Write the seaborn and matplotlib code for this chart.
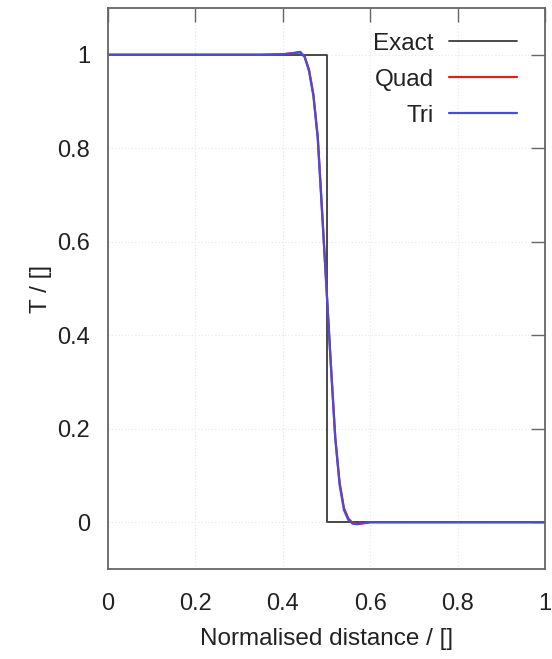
import matplotlib
matplotlib.use("Agg")
import matplotlib.pyplot as plt
import seaborn as sns
import pandas as pd

# Exact step profile
exact_x = [0.0, 0.5, 0.5, 1.0]
exact_t = [1.0, 1.0, 0.0, 0.0]

# Numerical solutions (quadrilateral and triangular meshes)
num_x = [0.0, 0.30, 0.35, 0.40, 0.42, 0.44, 0.45, 0.46, 0.47, 0.48, 0.49, 0.50,
         0.51, 0.52, 0.53, 0.54, 0.55, 0.56, 0.57, 0.58, 0.60, 0.65, 1.0]
quad_t = [1.0, 1.0, 1.0, 1.001, 1.003, 1.005, 0.996, 0.968, 0.915, 0.825, 0.665, 0.50,
          0.338, 0.182, 0.085, 0.030, 0.008, -0.002, -0.004, -0.003, 0.0, 0.0, 0.0]
tri_t = [1.0, 1.0, 1.0, 1.001, 1.003, 1.006, 0.995, 0.965, 0.912, 0.820, 0.660, 0.50,
         0.335, 0.180, 0.080, 0.026, 0.005, -0.003, -0.004, -0.002, 0.0, 0.0, 0.0]

series_names = ["Exact", "Quad", "Tri"]
series_colors = ["#3a3a3a", "#e02020", "#4b4bd8"]

sns.set_theme(style="white")
plt.rcParams["font.family"] = ["Liberation Sans", "DejaVu Sans"]

fig = plt.figure(figsize=(5.52, 6.59), dpi=100)
ax = fig.add_axes([0.1957, 0.1366, 0.7916, 0.8513])

exact_df = pd.DataFrame({"x": exact_x, "T": exact_t})
quad_df = pd.DataFrame({"x": num_x, "T": quad_t})
tri_df = pd.DataFrame({"x": num_x, "T": tri_t})

sns.lineplot(data=exact_df, x="x", y="T", estimator=None, sort=False, ax=ax,
             color=series_colors[0], linewidth=1.3, label=series_names[0])
sns.lineplot(data=quad_df, x="x", y="T", estimator=None, sort=False, ax=ax,
             color=series_colors[1], linewidth=1.6, label=series_names[1])
sns.lineplot(data=tri_df, x="x", y="T", estimator=None, sort=False, ax=ax,
             color=series_colors[2], linewidth=1.6, label=series_names[2])

ax.set_xlim(0, 1)
ax.set_ylim(-0.1, 1.1)
ax.set_xticks([0, 0.2, 0.4, 0.6, 0.8, 1.0])
ax.set_xticklabels(["0", "0.2", "0.4", "0.6", "0.8", "1"])
ax.set_yticks([0, 0.2, 0.4, 0.6, 0.8, 1.0])
ax.set_yticklabels(["0", "0.2", "0.4", "0.6", "0.8", "1"])

ax.grid(True, color="#e6e6e6", linestyle=(0, (1, 2)), linewidth=0.8)
for sp in ax.spines.values():
    sp.set_color("#666666")
    sp.set_linewidth(1.3)

ax.tick_params(axis="both", which="major", direction="in", length=10, width=1.0,
               color="#666666", labelsize=17, labelcolor="#222222",
               top=True, right=True)
ax.tick_params(axis="x", pad=17)
ax.tick_params(axis="y", pad=13)

ax.set_xlabel("Normalised distance / []", fontsize=17.5, color="#222222", labelpad=10)
ax.set_ylabel("T / []", fontsize=17.5, color="#222222", labelpad=4)

leg = ax.legend(loc="upper right", bbox_to_anchor=(0.987, 0.995), frameon=False,
                markerfirst=False, fontsize=17.5, handlelength=2.8,
                handletextpad=0.65, labelspacing=0.58)
for t in leg.get_texts():
    t.set_color("#222222")

fig.savefig("out.png", dpi=100)
